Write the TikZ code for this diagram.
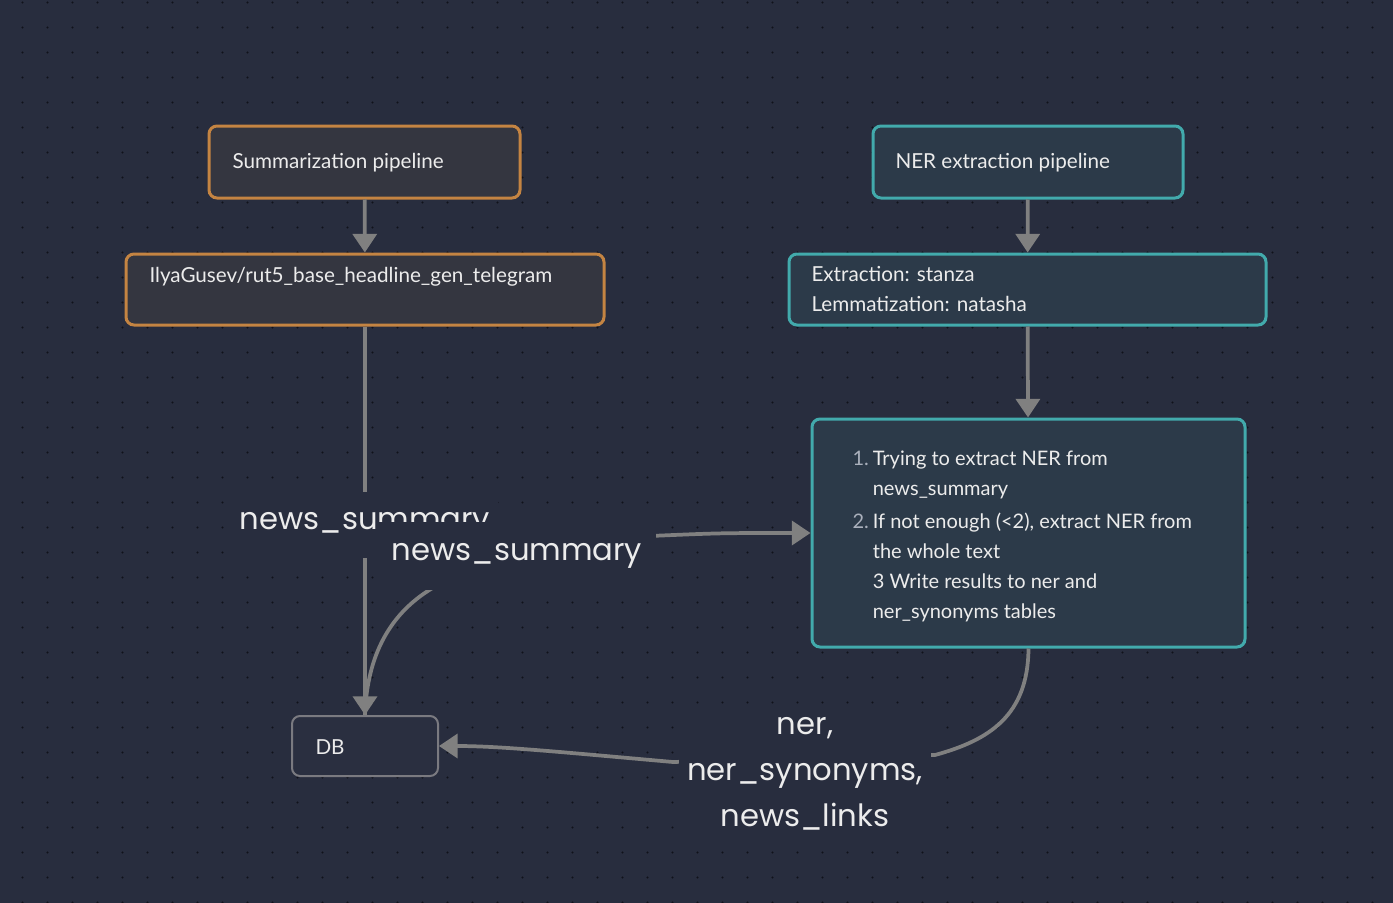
\documentclass[tikz,border=0pt]{standalone}
\usepackage{fontspec}
\setmainfont{Lato}
\newfontfamily\labelfont{Poppins}
\usetikzlibrary{arrows.meta}

\definecolor{bgnavy}{RGB}{40,45,62}
\definecolor{dotblack}{RGB}{16,18,26}
\definecolor{sumfill}{RGB}{52,54,64}
\definecolor{sumorange}{RGB}{196,132,66}
\definecolor{nerfill}{RGB}{44,58,73}
\definecolor{nerteal}{RGB}{66,170,172}
\definecolor{dbfill}{RGB}{42,47,64}
\definecolor{dbgray}{RGB}{122,122,128}
\definecolor{edgegray}{RGB}{128,128,128}
\definecolor{boxtext}{RGB}{236,236,236}
\definecolor{numgray}{RGB}{170,176,188}

\tikzset{every picture/.style={line width=0.75pt}}
\tikzset{
  sumbox/.style={draw=sumorange, fill=sumfill, line width=2.25pt, rounded corners=6pt, inner sep=0pt},
  nerbox/.style={draw=nerteal, fill=nerfill, line width=2.25pt, rounded corners=6pt, inner sep=0pt},
  dbbox/.style={draw=dbgray, fill=dbfill, line width=1.5pt, rounded corners=6pt, inner sep=0pt},
  boxlabel/.style={anchor=west, inner sep=0.75pt, text=boxtext, font=\fontsize{15.5}{22.5}\selectfont},
  edge/.style={draw=edgegray, line width=2.8pt, -{Triangle[length=14pt,width=18pt]}},
  edgelabel/.style={fill=bgnavy, text=boxtext, inner xsep=6pt, inner ysep=0pt, align=center, font=\labelfont\fontsize{23}{34.5}\selectfont}
}

\begin{document}
\begin{tikzpicture}[x=0.75pt,y=0.75pt,yscale=-1,xscale=1]
%set diagram left start at 0, and has height of 903
\useasboundingbox (0,0) rectangle (1393,903);
\fill[bgnavy] (0,0) rectangle (1393,903);

%Dot grid
\foreach \gx in {0,...,55} {
  \foreach \gy in {0,...,36} {
    \fill[dotblack] (22.5+25*\gx,2.5+25*\gy) circle (1.1);
  }
}

%Boxes
\node[sumbox, minimum width=233.25pt, minimum height=54pt] (summ) at (364.5,162) {};
\node[sumbox, minimum width=358.5pt, minimum height=53.25pt] (rut) at (365,289.5) {};
\node[nerbox, minimum width=232.5pt, minimum height=54pt] (ner) at (1028,162) {};
\node[nerbox, minimum width=357.75pt, minimum height=53.25pt] (extr) at (1027.5,289.5) {};
\node[nerbox, minimum width=324.75pt, minimum height=171pt] (steps) at (1028.5,533) {};
\node[dbbox, minimum width=109.5pt, minimum height=45pt] (db) at (365,746) {};

% Text Node
\node[boxlabel] (summtext) at (231,163) {Summarization pipeline};
% Text Node
\node[boxlabel] (ruttext) at (148,277) {IlyaGusev/rut5\_base\_headline\_gen\_telegram};
% Text Node
\node[boxlabel] (nertext) at (894,163) {NER extraction pipeline};
% Text Node
\node[boxlabel, align=left, anchor=north west] (extrtext) at (810,265) {Extraction: stanza\\Lemmatization: natasha};
% Text Node
\node[boxlabel, anchor=north west, font=\fontsize{15}{22.5}\selectfont] (stepstext) at (851,443) {%
  \begin{tabular}{@{}r@{\hspace{3pt}}l@{}}
  \textcolor{numgray}{1.} & Trying to extract NER from\\
   & news\_summary\\[2.5pt]
  \textcolor{numgray}{2.} & If not enough (<2), extract NER from\\
   & the whole text\\
   & 3 Write results to ner and\\
   & ner\_synonyms tables
  \end{tabular}};
% Text Node
\node[boxlabel] (dbtext) at (314,747) {DB};

%Straight Lines
\draw[edge] (summ) -- (rut);
\draw[edge] (ner) -- (extr);
\draw[edge] (extr) -- (steps);
\draw[edge] (rut) -- (db);

%Curve Lines
\draw[edge] (db.north) .. controls (367,655) and (390,612) .. (436,586)
  -- (650,536) .. controls (720,533) .. (steps.west);
\draw[edge] (steps.south) .. controls (1028,715) and (990,740) .. (935,755)
  -- (673,762) .. controls (560,752) and (500,746) .. (db.east);

% Edge labels
\node[edgelabel, minimum height=49.5pt] (lblrut) at (365,525) {news\_summary};
\node[edgelabel, minimum height=51pt, inner xsep=10pt] (lblsteps) at (517,556) {news\_summary};
\node[edgelabel, inner ysep=6pt] (lbldb) at (805,774) {ner,\\ner\_synonyms,\\news\_links};

\end{tikzpicture}
\end{document}
